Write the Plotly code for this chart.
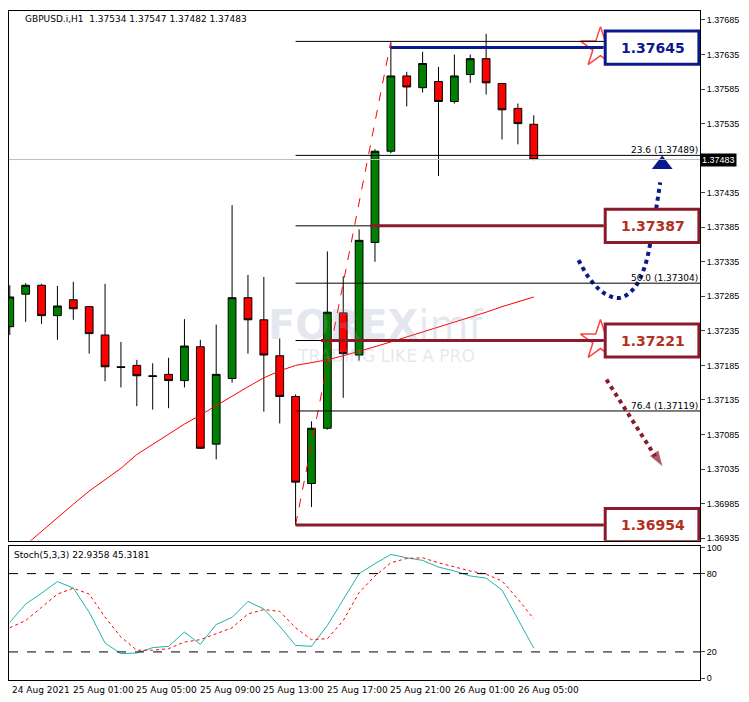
import plotly.graph_objects as go

# GBPUSD H1 candles, 24 Aug 21:00 .. 26 Aug 06:00
times = ["24 Aug 21:00", "24 Aug 22:00", "24 Aug 23:00", "25 Aug 00:00", "25 Aug 01:00", "25 Aug 02:00",
         "25 Aug 03:00", "25 Aug 04:00", "25 Aug 05:00", "25 Aug 06:00", "25 Aug 07:00", "25 Aug 08:00",
         "25 Aug 09:00", "25 Aug 10:00", "25 Aug 11:00", "25 Aug 12:00", "25 Aug 13:00", "25 Aug 14:00",
         "25 Aug 15:00", "25 Aug 16:00", "25 Aug 17:00", "25 Aug 18:00", "25 Aug 19:00", "25 Aug 20:00",
         "25 Aug 21:00", "25 Aug 22:00", "25 Aug 23:00", "26 Aug 00:00", "26 Aug 01:00", "26 Aug 02:00",
         "26 Aug 03:00", "26 Aug 04:00", "26 Aug 05:00", "26 Aug 06:00"]
opens = [1.37241, 1.37288, 1.37301, 1.37257, 1.37280, 1.37270, 1.37229, 1.37183, 1.37185, 1.37170,
         1.37172, 1.37163, 1.37212, 1.37071, 1.37166, 1.37283, 1.37251, 1.37199, 1.37140, 1.37014,
         1.37094, 1.37261, 1.37200, 1.37363, 1.37495, 1.37604, 1.37587, 1.37596, 1.37567, 1.37606,
         1.37629, 1.37593, 1.37557, 1.37534]
highs = [1.37301, 1.37304, 1.37303, 1.37300, 1.37306, 1.37271, 1.37303, 1.37219, 1.37193, 1.37188,
         1.37196, 1.37252, 1.37222, 1.37244, 1.37417, 1.37316, 1.37313, 1.37224, 1.37143, 1.37104,
         1.37350, 1.37314, 1.37382, 1.37498, 1.37652, 1.37610, 1.37639, 1.37617, 1.37635, 1.37635,
         1.37665, 1.37594, 1.37564, 1.37547]
lows = [1.37229, 1.37248, 1.37245, 1.37222, 1.37251, 1.37202, 1.37162, 1.37153, 1.37126, 1.37121,
        1.37123, 1.37153, 1.37064, 1.37049, 1.37160, 1.37202, 1.37118, 1.37101, 1.36954, 1.36980,
        1.37092, 1.37138, 1.37192, 1.37335, 1.37492, 1.37560, 1.37580, 1.37459, 1.37564, 1.37594,
        1.37577, 1.37512, 1.37505, 1.37482]
closes = [1.37284, 1.37301, 1.37257, 1.37271, 1.37267, 1.37231, 1.37183, 1.37182, 1.37170, 1.37169,
          1.37163, 1.37213, 1.37065, 1.37172, 1.37283, 1.37251, 1.37200, 1.37140, 1.37016, 1.37094,
          1.37262, 1.37202, 1.37366, 1.37495, 1.37604, 1.37588, 1.37622, 1.37567, 1.37604, 1.37629,
          1.37594, 1.37555, 1.37535, 1.37483]
ma = [None, 1.36925, 1.36945, 1.36965, 1.36984, 1.37003, 1.37020, 1.37036, 1.37056, 1.37071,
      1.37085, 1.37100, 1.37113, 1.37127, 1.37141, 1.37154, 1.37167, 1.37177, 1.37185, 1.37189,
      1.37193, 1.37199, 1.37205, 1.37212, 1.37219, 1.37226, 1.37234, 1.37241, 1.37248, 1.37255,
      1.37262, 1.37270, 1.37277, 1.37284]
stoch_k = [42.7, 56.7, 65.0, 73.9, 68.9, 50.4, 26.8, 18.7, 19.2, 23.3, 24.3, 35.2, 25.8, 41.0, 46.5,
           58.7, 52.9, 39.7, 25.0, 24.3, 40.2, 60.5, 80.0, 87.6, 94.7, 92.1, 90.1, 85.0, 82.0, 78.2,
           76.5, 67.4, 45.3, 22.9]
stoch_d = [38.5, 44.0, 54.2, 64.3, 68.8, 64.3, 46.6, 31.4, 21.3, 21.3, 22.5, 27.6, 29.4, 33.9, 38.5,
           49.1, 52.4, 51.1, 38.5, 29.4, 30.1, 44.0, 65.5, 78.2, 88.3, 91.6, 92.1, 88.3, 85.0, 82.0,
           79.5, 74.4, 60.5, 45.3]

fib_low, fib_high = 1.36954, 1.37654
fib_levels = [1.37654, 1.37489, 1.37387, 1.37304, 1.37221, 1.37119, 1.36954]
fib_labels = {1.37489: "23.6 (1.37489)", 1.37304: "50.0 (1.37304)", 1.37119: "76.4 (1.37119)"}
key_levels = [1.37645, 1.37387, 1.37221, 1.36954]
key_colors = ["#0a1a8c", "#8b1a2b", "#8b1a2b", "#8b1a2b"]
key_text = ["#0a1a8c", "#b3301e", "#b3301e", "#b3301e"]
key_start = [24, 22.7, 19.6, 18]
price_ticks = [1.37685, 1.37635, 1.37585, 1.37535, 1.37435, 1.37385, 1.37335, 1.37285, 1.37235,
               1.37185, 1.37135, 1.37085, 1.37035, 1.36985, 1.36935]
time_labels = ["24 Aug 2021", "25 Aug 01:00", "25 Aug 05:00", "25 Aug 09:00", "25 Aug 13:00",
               "25 Aug 17:00", "25 Aug 21:00", "26 Aug 01:00", "26 Aug 05:00"]
last_price = 1.37483

idx = list(range(len(times)))
XR = [-0.05, 43.47]
YR = [1.36931, 1.37698]

# pixel helpers for decorative drawings
def px_x(px):
    return (px - 7) / 15.94

def px_y(py):
    return 1.37685 - (py - 17) * 0.00001442

fig = go.Figure()
fig.add_trace(go.Candlestick(
    x=idx, open=opens, high=highs, low=lows, close=closes,
    increasing=dict(fillcolor="#008000", line=dict(color="black", width=1)),
    decreasing=dict(fillcolor="#ff0000", line=dict(color="black", width=1)),
    whiskerwidth=0, showlegend=False, hoverinfo="skip"))
fig.add_trace(go.Scatter(x=idx, y=ma, mode="lines", line=dict(color="red", width=1), hoverinfo="skip"))
fig.add_trace(go.Scatter(x=[18, 24], y=[fib_low, fib_high], mode="lines",
                         line=dict(color="red", width=1, dash="dash"), hoverinfo="skip"))

# fib lines
for lv in fib_levels:
    fig.add_shape(type="line", x0=18, x1=XR[1], y0=lv, y1=lv, line=dict(color="black", width=1))
    if lv in fib_labels:
        fig.add_annotation(x=XR[1], y=lv, text=fib_labels[lv], showarrow=False, xanchor="right",
                           yanchor="bottom", font=dict(size=9, color="black"), yshift=-2)

# current price line
fig.add_shape(type="line", x0=XR[0], x1=XR[1], y0=last_price, y1=last_price,
              line=dict(color="#c0c0c0", width=1))

# key levels with boxes
for lv, c, tc, s in zip(key_levels, key_colors, key_text, key_start):
    fig.add_shape(type="line", x0=s, x1=37.4, y0=lv, y1=lv, line=dict(color=c, width=3))
    fig.add_shape(type="rect", x0=37.5, x1=43.4, y0=lv - 0.00024, y1=lv + 0.00024,
                  line=dict(color=c, width=3), fillcolor="white")
    fig.add_annotation(x=40.5, y=lv, text="<b>%.5f</b>" % lv, showarrow=False,
                       font=dict(size=14, color=tc, family="DejaVu Sans"))

# starbursts
fig.add_trace(go.Scatter(x=[px_x(600), px_x(600)], y=[1.37645, 1.37221], mode="markers",
                         marker=dict(symbol="star", size=30, color="white",
                                     line=dict(color="#ff4040", width=1.5)), hoverinfo="skip"))

# blue dotted curved arrow
bx = [578, 590, 605, 620, 634, 644, 651, 656, 660]
by = [258, 278, 292, 296, 286, 266, 236, 206, 180]
fig.add_trace(go.Scatter(x=[px_x(v) for v in bx], y=[px_y(v) for v in by], mode="lines",
                         line=dict(color="#0a1a8c", width=4, dash="dot", shape="spline"), hoverinfo="skip"))
fig.add_trace(go.Scatter(x=[px_x(662)], y=[px_y(162)], mode="markers",
                         marker=dict(symbol="triangle-up", size=18, color="#0a1a8c"), hoverinfo="skip"))
# red dotted arrow
fig.add_trace(go.Scatter(x=[px_x(606), px_x(655)], y=[px_y(378), px_y(455)], mode="lines",
                         line=dict(color="#8b1a2b", width=4, dash="dot"), hoverinfo="skip"))
fig.add_trace(go.Scatter(x=[px_x(606), px_x(663)], y=[px_y(378), px_y(466)], mode="markers",
                         marker=dict(symbol="arrow", size=[0, 18], color="#8b1a2b", angleref="previous"),
                         hoverinfo="skip"))

# stochastic
fig.add_trace(go.Scatter(x=idx, y=stoch_k, xaxis="x2", yaxis="y2", mode="lines",
                         line=dict(color="#20b2aa", width=1), hoverinfo="skip"))
fig.add_trace(go.Scatter(x=idx, y=stoch_d, xaxis="x2", yaxis="y2", mode="lines",
                         line=dict(color="red", width=1, dash="dot"), hoverinfo="skip"))
for lv in [80, 20]:
    fig.add_shape(type="line", xref="x2", yref="y2", x0=XR[0], x1=XR[1], y0=lv, y1=lv,
                  line=dict(color="black", width=1, dash="dash"))

# watermark
fig.add_annotation(xref="paper", yref="paper", x=0.53, y=0.53, text="<b>FOREX</b>imf", showarrow=False,
                   font=dict(size=40, color="rgba(150,160,190,0.25)", family="DejaVu Sans"))
fig.add_annotation(xref="paper", yref="paper", x=0.545, y=0.485, text="TRADING LIKE A PRO", showarrow=False,
                   font=dict(size=17, color="rgba(150,160,190,0.25)", family="DejaVu Sans"))

# texts
fig.add_annotation(xref="paper", yref="paper", x=0.02, y=0.998, xanchor="left", yanchor="top",
                   text="GBPUSD.i,H1  1.37534 1.37547 1.37482 1.37483", showarrow=False,
                   font=dict(size=9, color="black"))
fig.add_annotation(xref="paper", yref="paper", x=0.005, y=0.197, xanchor="left", yanchor="top",
                   text="Stoch(5,3,3) 22.9358 45.3181", showarrow=False, font=dict(size=9, color="black"))
fig.add_annotation(xref="paper", x=1, y=last_price, xanchor="left", text="%.5f" % last_price,
                   showarrow=False, bgcolor="black", font=dict(size=9, color="white",
                                                               family="Liberation Sans"))
for i, t in enumerate(time_labels):
    fig.add_annotation(xref="x2", yref="paper", x=max(i * 4 - 0.15, 0.0), y=-0.005, xanchor="left",
                       yanchor="top", text=t, showarrow=False, font=dict(size=9, color="black"))

fig.update_layout(
    width=741, height=694, margin=dict(l=0, r=49, t=0, b=22),
    paper_bgcolor="white", plot_bgcolor="white", showlegend=False,
    font=dict(family="DejaVu Sans", size=9, color="black"),
    xaxis=dict(range=XR, domain=[0, 1], anchor="y", showticklabels=False, showgrid=False, ticks="",
               rangeslider=dict(visible=False), showline=True, mirror=True, linecolor="black", zeroline=False),
    yaxis=dict(range=YR, domain=[0.208, 1], side="right", tickvals=price_ticks,
               ticktext=["%.5f" % v for v in price_ticks], ticks="outside", ticklen=4,
               tickfont=dict(family="Liberation Sans", size=9),
               showgrid=False, showline=True, mirror=True, linecolor="black", zeroline=False),
    xaxis2=dict(range=XR, domain=[0, 1], anchor="y2", showticklabels=False, showgrid=False,
                showline=True, mirror=True, linecolor="black", zeroline=False),
    yaxis2=dict(range=[-1.5, 101.5], domain=[0, 0.201], side="right", tickvals=[100, 80, 20, 0],
                ticks="outside", ticklen=4, tickfont=dict(family="Liberation Sans", size=9),
                showgrid=False, showline=True, mirror=True,
                linecolor="black", zeroline=False),
)

fig.write_html("out.html")
